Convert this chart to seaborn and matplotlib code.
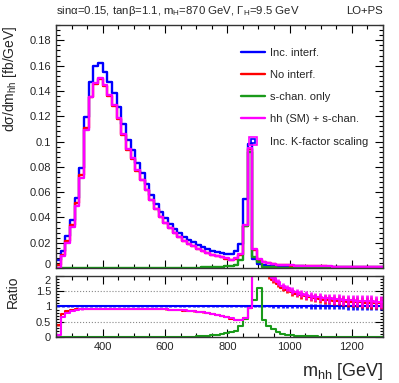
import numpy as np
import pandas as pd
import seaborn as sns
import matplotlib.pyplot as plt
from matplotlib.lines import Line2D
from matplotlib.legend_handler import HandlerTuple
from matplotlib.ticker import MultipleLocator, FuncFormatter

# binning: 15 GeV bins from 250 to 1300 GeV
bin_edges = list(range(250, 1301, 15))
centers = [e + 7.5 for e in bin_edges[:-1]]

# dsigma/dm_hh [fb/GeV]
inc_interf = [0.0060, 0.0138, 0.0250, 0.0380, 0.0555, 0.0790, 0.1195, 0.1472, 0.1597, 0.1622,
              0.1550, 0.1470, 0.1385, 0.1275, 0.1135, 0.1010, 0.0932, 0.0832, 0.0748, 0.0662,
              0.0580, 0.0505, 0.0445, 0.0395, 0.0350, 0.0312, 0.0276, 0.0248, 0.0222, 0.0202,
              0.0182, 0.0164, 0.0150, 0.0138, 0.0128, 0.0120, 0.0113, 0.0108, 0.0133, 0.0191,
              0.0545, 0.0982, 0.0070, 0.0030, 0.0021, 0.0018, 0.0016, 0.0015, 0.0014, 0.00135,
              0.0013, 0.00125, 0.0012, 0.00115, 0.0011, 0.00106, 0.00102, 0.00098, 0.00095, 0.00092,
              0.00089, 0.00086, 0.00083, 0.0008, 0.00078, 0.00076, 0.00074, 0.00072, 0.0007, 0.00068]

no_interf = [0.0023, 0.0106, 0.0215, 0.0342, 0.0511, 0.0735, 0.1105, 0.1350, 0.1458, 0.1493,
             0.1438, 0.1360, 0.1282, 0.1180, 0.1051, 0.0935, 0.0863, 0.0770, 0.0693, 0.0613,
             0.0534, 0.0463, 0.0405, 0.0357, 0.0313, 0.0277, 0.0242, 0.0215, 0.0190, 0.0170,
             0.0150, 0.0132, 0.0118, 0.0104, 0.0092, 0.0083, 0.0074, 0.0065, 0.0074, 0.0106,
             0.0335, 0.0940, 0.0145, 0.0066, 0.0044, 0.0036, 0.0030, 0.0026, 0.00225, 0.00207,
             0.0019, 0.00176, 0.00164, 0.00153, 0.00143, 0.00135, 0.00128, 0.0012, 0.00115, 0.0011,
             0.00106, 0.00101, 0.00096, 0.00092, 0.00089, 0.00086, 0.00083, 0.0008, 0.00077, 0.00075]

s_chan = [0.0, 0.0, 0.0, 0.0, 0.0, 0.0, 0.0, 0.0, 0.0, 0.0,
          0.0, 0.0, 0.0, 0.0, 0.0, 0.0, 0.0, 0.0, 0.0, 0.0,
          0.0001, 0.0001, 0.0001, 0.0001, 0.0001, 0.0001, 0.0002, 0.0002, 0.0002, 0.0002,
          0.0003, 0.0004, 0.0005, 0.0007, 0.0009, 0.0011, 0.0013, 0.0016, 0.0027, 0.0067,
          0.0330, 0.0920, 0.0085, 0.0048, 0.00115, 0.00063, 0.0004, 0.00026, 0.00014, 0.0001,
          0.00007, 0.00005, 0.00004, 0.00003, 0.00002, 0.00002, 0.00001, 0.00001, 0.00001, 0.00001,
          0.00001, 0.00001, 0.00001, 0.00001, 0.00001, 0.00001, 0.00001, 0.00001, 0.00001, 0.00001]

sm_plus_s = [0.0003, 0.0092, 0.0200, 0.0327, 0.0492, 0.0715, 0.1095, 0.1355, 0.1465, 0.1500,
             0.1445, 0.1367, 0.1288, 0.1186, 0.1056, 0.0939, 0.0867, 0.0774, 0.0696, 0.0616,
             0.0537, 0.0465, 0.0407, 0.0359, 0.0315, 0.0278, 0.0243, 0.0216, 0.0191, 0.0171,
             0.0151, 0.0133, 0.0119, 0.0105, 0.0093, 0.0084, 0.0075, 0.0066, 0.0075, 0.0107,
             0.0338, 0.0948, 0.0150, 0.0069, 0.0046, 0.0038, 0.0031, 0.0027, 0.00235, 0.00216,
             0.00198, 0.00183, 0.0017, 0.00159, 0.00149, 0.0014, 0.00133, 0.00125, 0.0012, 0.00115,
             0.0011, 0.00105, 0.001, 0.00096, 0.00093, 0.0009, 0.00087, 0.00084, 0.00081, 0.00078]

# relative stat. uncertainty of the reference (Inc. interf.) histogram
rel_err = [0.02, 0.01, 0.008, 0.006, 0.005, 0.005, 0.005, 0.005, 0.005, 0.005,
           0.005, 0.005, 0.005, 0.005, 0.005, 0.005, 0.005, 0.005, 0.005, 0.005,
           0.005, 0.005, 0.005, 0.005, 0.005, 0.005, 0.005, 0.005, 0.005, 0.005,
           0.005, 0.005, 0.005, 0.005, 0.005, 0.005, 0.005, 0.005, 0.005, 0.005,
           0.004, 0.003, 0.010, 0.018, 0.024, 0.030, 0.035, 0.040, 0.044, 0.048,
           0.052, 0.056, 0.060, 0.064, 0.068, 0.072, 0.076, 0.080, 0.084, 0.088,
           0.092, 0.096, 0.100, 0.104, 0.108, 0.112, 0.116, 0.120, 0.125, 0.130]

labels = ['Inc. interf.', 'No interf.', 's-chan. only', 'hh (SM) + s-chan.']
colors = ['#0000ff', '#ff0000', '#1a9a1a', '#ff00ff']
series = [inc_interf, no_interf, s_chan, sm_plus_s]

sns.set_theme(style='ticks')
plt.rcParams['font.family'] = ['Liberation Sans', 'DejaVu Sans']
plt.rcParams['mathtext.fontset'] = 'custom'
plt.rcParams['mathtext.rm'] = 'Liberation Sans'
plt.rcParams['mathtext.it'] = 'Liberation Sans:italic'

fig = plt.figure(figsize=(3.99, 3.83), dpi=100)
ax = fig.add_axes([0.1404, 0.3003, 0.8195, 0.634])
rax = fig.add_axes([0.1404, 0.1201, 0.8195, 0.1593], sharex=ax)

x = np.array(centers)

# main panel
for vals, col in zip(series, colors):
    sns.histplot(x=x, weights=np.array(vals), bins=bin_edges, element='step', fill=False,
                 color=col, linewidth=1.7, ax=ax)

# ratio panel (everything divided by Inc. interf.)
ref = np.array(inc_interf)
rerr = np.array(rel_err)
for yv in (0.5, 1.0, 1.5):
    rax.axhline(yv, color='#888888', ls=':', lw=0.8, zorder=0)

for i in [0, 2, 1, 3]:
    ratio = np.array(series[i]) / ref
    sns.histplot(x=x, weights=ratio, bins=bin_edges, element='step', fill=False,
                 color=colors[i], linewidth=1.5, ax=rax)
    if i != 2:
        err = rerr * ratio * (1.0 if i == 0 else 1.4)
        rax.errorbar(x, ratio, yerr=err, fmt='none', ecolor=colors[i],
                     elinewidth=2.0, capsize=0, alpha=0.9)

# axes styling
ax.set_xlim(250, 1300)
ax.set_ylim(0, 0.192)
rax.set_ylim(0, 2.0)
for a in (ax, rax):
    a.tick_params(direction='in', which='both', top=True, right=True, labelsize=8,
                  color='black', width=0.8)
    a.tick_params(which='major', length=6)
    a.tick_params(which='minor', length=3)
    for s in a.spines.values():
        s.set_color('#333333')
        s.set_linewidth(1.0)
ax.xaxis.set_major_locator(MultipleLocator(200))
ax.xaxis.set_minor_locator(MultipleLocator(50))
ax.yaxis.set_major_locator(MultipleLocator(0.02))
ax.yaxis.set_minor_locator(MultipleLocator(0.004))
ax.yaxis.set_major_formatter(FuncFormatter(lambda v, p: '%g' % round(v, 3)))
ax.tick_params(labelbottom=False)
rax.yaxis.set_major_locator(MultipleLocator(0.5))
rax.yaxis.set_minor_locator(MultipleLocator(0.1))
rax.yaxis.set_major_formatter(FuncFormatter(lambda v, p: '%g' % v))
rax.tick_params(axis='y', which='minor', length=2)

ax.set_xlabel('')
ax.set_ylabel('dσ/dm$_{\\mathrm{hh}}$ [fb/GeV]', fontsize=10, loc='top')
ax.yaxis.set_label_coords(-0.112, 1.0)
rax.set_ylabel('Ratio', fontsize=10, loc='top')
rax.yaxis.set_label_coords(-0.112, 1.0)
rax.set_xlabel('m$_{\\mathrm{hh}}$ [GeV]', fontsize=13, loc='right')
rax.xaxis.set_label_coords(1.0, -0.4)

# legend
handles = [Line2D([], [], color=c, lw=1.7) for c in colors]
kf = (Line2D([], [], marker='s', ms=6, mfc='none', mec='#ff00ff', mew=1.2, ls='none'),
      Line2D([], [], marker='s', ms=3, mfc='none', mec='#0000ff', mew=1.2, ls='none'))
handles.append(kf)
leg = ax.legend(handles, labels + ['Inc. K-factor scaling'], loc='upper left',
                bbox_to_anchor=(0.55, 0.93), frameon=False, fontsize=8,
                handlelength=2.1, handletextpad=0.5, labelspacing=1.1, borderpad=0,
                handler_map={tuple: HandlerTuple(ndivide=1)})

# header
fig.text(56 / 399, 1 - 14 / 383, 'sinα=0.15, tanβ=1.1, m$_{\\mathrm{H}}$=870 GeV, Γ$_{\\mathrm{H}}$=9.5 GeV',
         fontsize=8.2, ha='left', va='baseline')
fig.text(383 / 399, 1 - 14 / 383, 'LO+PS', fontsize=8.2, ha='right', va='baseline')

# keep the "0" of the main panel and the "2" of the ratio panel apart
fig.canvas.draw()
for lbl in ax.get_yticklabels():
    if lbl.get_text() == '0':
        lbl.set_va('baseline')
for lbl in rax.get_yticklabels():
    if lbl.get_text() == '2':
        lbl.set_va('top')

fig.savefig('out.png', dpi=100)
